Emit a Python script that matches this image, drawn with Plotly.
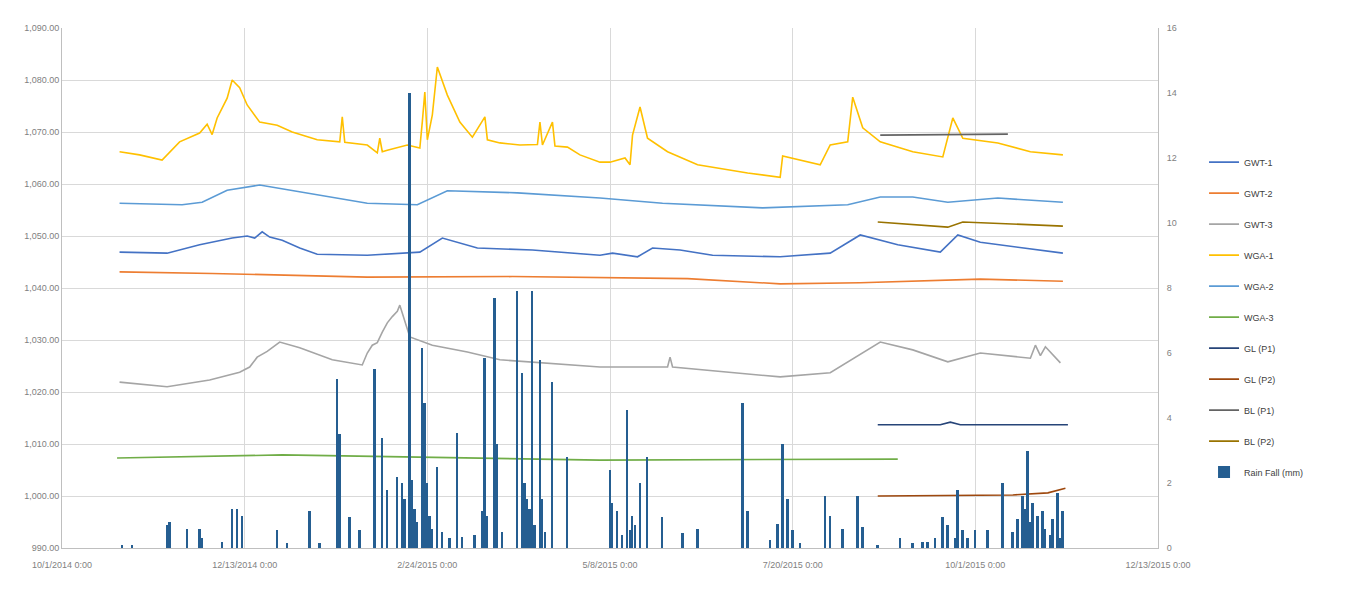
import pandas as pd
import plotly.graph_objects as go

START = "2014-10-01"  # day 0 of the monitoring record

# ---- x-axis tick labels (dates) ----
tick_dates = ["2014-10-01", "2014-12-13", "2015-02-24", "2015-05-08",
              "2015-07-20", "2015-10-01", "2015-12-13"]
tick_labels = ["10/1/2014 0:00", "12/13/2014 0:00", "2/24/2015 0:00", "5/8/2015 0:00",
               "7/20/2015 0:00", "10/1/2015 0:00", "12/13/2015 0:00"]

# ---- series (day since START, value) ----
gwt1_day = [23, 42, 55, 68, 74, 77, 80, 83, 88, 95, 102, 122, 143, 152, 166, 188, 215,
            220, 230, 236, 247, 260, 287, 307, 319, 334, 351, 358, 367, 400]
gwt1_val = [1046.9, 1046.7, 1048.3, 1049.6, 1050.0, 1049.6, 1050.8, 1049.8, 1049.2, 1047.7,
            1046.5, 1046.3, 1046.9, 1049.6, 1047.7, 1047.3, 1046.3,
            1046.7, 1046.0, 1047.7, 1047.3, 1046.3, 1046.0, 1046.7, 1050.2, 1048.3, 1046.9,
            1050.2, 1048.8, 1046.7]

gwt2_day = [23, 60, 122, 180, 250, 287, 319, 367, 400]
gwt2_val = [1043.1, 1042.8, 1042.1, 1042.2, 1041.8, 1040.8, 1041.0, 1041.7, 1041.3]

gwt3_day = [23, 42, 59, 71, 75, 78, 82, 87, 95, 108, 120, 122, 124, 126, 128, 130, 132,
            134, 135, 139, 148, 162, 175, 215, 242, 243, 244, 287, 307, 327, 340, 354,
            367, 387, 389, 391, 393, 399]
gwt3_val = [1021.9, 1021.0, 1022.3, 1023.8, 1024.8, 1026.7, 1027.8, 1029.6, 1028.5, 1026.2,
            1025.2, 1027.5, 1029.0, 1029.5, 1031.5, 1033.3, 1034.5,
            1035.5, 1036.7, 1030.6, 1029.0, 1027.7, 1026.2, 1024.8, 1024.8, 1026.7, 1024.8,
            1022.9, 1023.7, 1029.6, 1028.1, 1025.8,
            1027.5, 1026.5, 1029.0, 1027.0, 1028.7, 1025.6]

wga1_day = [23, 31, 40, 47, 55, 58, 60, 62, 66, 68, 71, 74, 79, 86, 92, 102, 111, 112,
            113, 122, 126, 127, 128, 130, 138, 143, 144, 145, 146, 148, 150, 154, 159,
            164, 169, 170, 175, 183, 190, 191, 192, 196, 197, 202, 207, 215, 219, 225,
            227, 228, 231, 234, 242, 254, 274, 287, 288, 303, 307, 314, 316, 320, 327,
            340, 352, 356, 360, 374, 387, 400]
wga1_val = [1066.2, 1065.6, 1064.6, 1068.1, 1069.8, 1071.5, 1069.5, 1072.7, 1076.5, 1080.0,
            1078.5, 1075.2, 1071.9, 1071.3, 1070.0, 1068.5, 1068.1, 1072.9,
            1068.0, 1067.5, 1066.0, 1068.8, 1066.2, 1066.5, 1067.5, 1066.9, 1072.0, 1077.7,
            1068.5, 1073.3, 1082.5, 1077.1, 1071.9,
            1069.0, 1072.9, 1068.5, 1067.9, 1067.5, 1067.6, 1071.9, 1067.5, 1071.9, 1067.3,
            1067.1, 1065.6, 1064.2, 1064.2, 1065.0,
            1063.7, 1069.4, 1074.8, 1068.8, 1066.2, 1063.7, 1062.1, 1061.3, 1065.4, 1063.7,
            1067.5, 1068.1, 1076.7, 1070.8, 1068.1,
            1066.2, 1065.2, 1072.7, 1068.8, 1067.9, 1066.2, 1065.6]

wga2_day = [23, 48, 56, 66, 79, 95, 122, 142, 154, 182, 215, 240, 280, 314, 327, 340,
            354, 374, 400]
wga2_val = [1056.3, 1056.0, 1056.5, 1058.8, 1059.8, 1058.5, 1056.3, 1056.0, 1058.7, 1058.3,
            1057.3, 1056.3, 1055.4, 1056.0, 1057.5, 1057.5, 1056.5, 1057.3, 1056.5]

wga3_day = [22, 88, 215, 334]
wga3_val = [1007.3, 1007.9, 1006.9, 1007.1]

glp1_day = [326, 351, 355, 359, 402]
glp1_val = [1013.7, 1013.7, 1014.2, 1013.7, 1013.7]

glp2_day = [326, 380, 394, 401]
glp2_val = [1000.0, 1000.2, 1000.6, 1001.5]

blp1_day = [327, 378]
blp1_val = [1069.4, 1069.6]

blp2_day = [326, 354, 360, 400]
blp2_val = [1052.7, 1051.7, 1052.7, 1051.9]

rain_day = [24, 28, 42, 43, 50, 55, 56, 64, 68, 70, 72, 86, 90, 99, 103, 110, 111, 115,
            119, 125, 128, 130, 134, 136, 137, 139, 140, 141, 142, 144, 145, 146, 147,
            148, 150, 152, 155, 158, 160, 165, 168, 169, 170, 173, 174, 176, 182, 184,
            185, 186, 187, 188, 189, 191, 192, 193, 196, 202, 219, 220, 222, 224, 226,
            227, 228, 229, 231, 234, 240, 248, 254, 272, 274, 283, 286, 288, 290, 292,
            295, 305, 307, 312, 318, 320, 326, 335, 340, 344, 346, 349, 352, 354, 357,
            358, 360, 362, 365, 370, 376, 380, 382, 384, 385, 386, 387, 388, 390, 392,
            393, 395, 396, 398, 399, 400]
rain_val = [0.1, 0.1, 0.7, 0.8, 0.6, 0.6, 0.3, 0.2, 1.2, 1.2, 1.0, 0.55, 0.15, 1.15, 0.15,
            5.2, 3.5, 0.95, 0.55, 5.5, 3.4, 1.8, 2.2, 2.0, 1.5, 14.0, 2.1, 1.2, 0.8,
            6.15, 4.45, 2.0, 1.0, 0.6, 2.5, 0.5, 0.3, 3.55, 0.35, 0.4, 1.15, 5.85, 1.0,
            7.7, 3.2, 0.5, 7.9, 5.4, 2.0, 1.5, 1.2, 7.9, 0.7, 5.8, 1.5, 0.5, 5.1, 2.8,
            2.4, 1.4, 1.15, 0.4, 4.25, 0.55, 1.0, 0.7, 2.0, 2.8, 0.95, 0.45, 0.6, 4.45,
            1.15, 0.25, 0.75, 3.2, 1.5, 0.55, 0.15, 1.6, 1.0, 0.6, 1.6, 0.65, 0.1, 0.3,
            0.15, 0.2, 0.2, 0.3, 0.95, 0.7, 0.3, 1.8, 0.55, 0.3, 0.55, 0.55, 2.0, 0.5,
            0.9, 1.6, 1.2, 3.0, 0.8, 1.4, 1.0, 1.15, 0.6, 0.4, 0.9, 1.7, 0.3, 1.15]

series = [
    ("GWT-1", gwt1_day, gwt1_val, "#4472C4"),
    ("GWT-2", gwt2_day, gwt2_val, "#ED7D31"),
    ("GWT-3", gwt3_day, gwt3_val, "#A5A5A5"),
    ("WGA-1", wga1_day, wga1_val, "#FFC000"),
    ("WGA-2", wga2_day, wga2_val, "#5B9BD5"),
    ("WGA-3", wga3_day, wga3_val, "#70AD47"),
    ("GL (P1)", glp1_day, glp1_val, "#264478"),
    ("GL (P2)", glp2_day, glp2_val, "#9E480E"),
    ("BL (P1)", blp1_day, blp1_val, "#636363"),
    ("BL (P2)", blp2_day, blp2_val, "#997300"),
]

start = pd.Timestamp(START)


def to_dates(days):
    return start + pd.to_timedelta(days, unit="D")


fig = go.Figure()
for i, (name, d, v, c) in enumerate(series):
    fig.add_trace(go.Scatter(x=to_dates(d), y=v, name=name, mode="lines",
                             line=dict(color=c, width=1.6), legendgroup=f"g{i}"))

fig.add_trace(go.Bar(x=to_dates(rain_day), y=rain_val, name="Rain Fall (mm)",
                     marker=dict(color="#255E91", line=dict(width=0)),
                     width=86400000 * 0.75, yaxis="y2", legendgroup="g10"))

axis_font = dict(family="Liberation Sans, Arial", size=9, color="#7F7F7F")

fig.update_layout(
    width=1342, height=591,
    margin=dict(l=54, r=192, t=20, b=51),
    paper_bgcolor="white", plot_bgcolor="white",
    showlegend=True,
    legend=dict(x=1.042, xanchor="left", y=0.77, yanchor="top",
                font=dict(family="Liberation Sans, Arial", size=9, color="#404040"),
                tracegroupgap=12, itemwidth=30, bgcolor="rgba(0,0,0,0)"),
    xaxis=dict(type="date", range=[tick_dates[0], tick_dates[-1]],
               tickmode="array", tickvals=tick_dates, ticktext=tick_labels,
               tickfont=axis_font, showgrid=True, gridcolor="#D9D9D9", gridwidth=1,
               showline=True, linecolor="#BFBFBF", ticks="", zeroline=False,
               ticklabelstandoff=8),
    yaxis=dict(range=[990, 1090], dtick=10, tick0=990, tickformat=",.2f",
               tickfont=axis_font, showgrid=True, gridcolor="#D9D9D9", gridwidth=1,
               showline=True, linecolor="#BFBFBF", zeroline=False, ticks=""),
    yaxis2=dict(range=[0, 16], dtick=2, overlaying="y", side="right",
                tickfont=axis_font, showgrid=False, showline=True,
                linecolor="#BFBFBF", zeroline=False, ticks="", ticklabelstandoff=6),
    bargap=0,
)

fig.write_html("out.html")
